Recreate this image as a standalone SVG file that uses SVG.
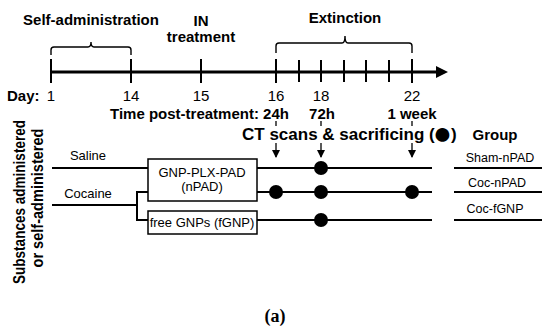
<svg xmlns="http://www.w3.org/2000/svg" width="550" height="334" viewBox="0 0 550 334">
<style>
text{font-family:"Liberation Sans",Arial,sans-serif;fill:#000}
.b{font-weight:bold;font-size:15px}
.r{font-size:15px}
.s{font-size:13px}
.g{font-size:12.5px}
.m{text-anchor:middle}
.ln{stroke:#000;stroke-width:2;fill:none}
.tk{stroke:#000;stroke-width:2}
.br{stroke:#000;stroke-width:1.4;fill:none}
.box{fill:#fff;stroke:#000;stroke-width:1.5}
.dot{fill:#000}
.th{stroke:#000;stroke-width:1.3}
</style>
<defs>
<marker id="ah" viewBox="0 0 8 8" refX="7" refY="4" markerWidth="8" markerHeight="8" markerUnits="userSpaceOnUse" orient="auto">
<path d="M0,0 L8,4 L0,8 z" fill="#000"/>
</marker>
</defs>

<g id="timeline">
<line x1="51" y1="72" x2="438" y2="72" stroke="#000" stroke-width="3"/>
<path d="M436,66 L448,72 L436,78 z" fill="#000"/>
<g class="tk">
<line x1="51" y1="59" x2="51" y2="83"/>
<line x1="131" y1="59" x2="131" y2="83"/>
<line x1="201" y1="59" x2="201" y2="83"/>
<line x1="276" y1="59" x2="276" y2="83"/>
<line x1="299" y1="60" x2="299" y2="82"/>
<line x1="321" y1="60" x2="321" y2="82"/>
<line x1="344" y1="60" x2="344" y2="82"/>
<line x1="366" y1="60" x2="366" y2="82"/>
<line x1="389" y1="60" x2="389" y2="82"/>
<line x1="412" y1="59" x2="412" y2="83"/>
</g>
<path class="br" d="M51,55 V50 Q51,47 54,47 H88 Q91,47 91,42 Q91,47 94,47 H128 Q131,47 131,50 V55"/>
<path class="br" d="M276,53 V46 Q276,43 279,43 H342 Q345,43 345,36 Q345,43 348,43 H409 Q412,43 412,46 V53"/>
<text class="b m" x="91" y="25">Self-administration</text>
<text class="b m" x="201" y="26">IN</text>
<text class="b m" x="201" y="42">treatment</text>
<text class="b m" x="345" y="23">Extinction</text>
<text class="b" x="7" y="101">Day:</text>
<text class="r m" x="51" y="101">1</text>
<text class="r m" x="131" y="101">14</text>
<text class="r m" x="201" y="101">15</text>
<text class="r m" x="276" y="101">16</text>
<text class="r m" x="321" y="101">18</text>
<text class="r m" x="412" y="101">22</text>
<text class="b" x="110" y="119">Time post-treatment: 24h</text>
<text class="b m" x="322" y="119">72h</text>
<text class="b m" x="412" y="119">1 week</text>
<g class="th">
<line x1="276" y1="121" x2="276" y2="126"/>
<line x1="321" y1="121" x2="321" y2="126"/>
<line x1="412" y1="121" x2="412" y2="126"/>
</g>
<text class="b" x="242" y="140" style="font-size:17px">CT scans &amp; sacrificing (<tspan dx="-2" dy="4" style="font-size:32px">●</tspan><tspan dx="-1" dy="-4">)</tspan></text>
</g>

<g id="connectors">
<line class="th" x1="276" y1="143" x2="276" y2="157" marker-end="url(#ah)"/>
<line class="th" x1="321" y1="143" x2="321" y2="157" marker-end="url(#ah)"/>
<line class="th" x1="412" y1="143" x2="412" y2="157" marker-end="url(#ah)"/>
<line class="ln" x1="52" y1="168" x2="148" y2="168"/>
<line class="ln" x1="257" y1="168" x2="432" y2="168"/>
<path class="ln" d="M52,205 H137 M148,192 H137 V220 H148"/>
<line class="ln" x1="257" y1="192" x2="432" y2="192"/>
<line class="ln" x1="257" y1="220" x2="432" y2="220"/>
<line class="ln" x1="454" y1="168" x2="542" y2="168"/>
<line class="ln" x1="454" y1="192" x2="542" y2="192"/>
<line class="ln" x1="454" y1="220" x2="542" y2="220"/>
</g>

<g id="dots">
<circle class="dot" cx="321" cy="168" r="7"/>
<circle class="dot" cx="276" cy="192" r="7"/>
<circle class="dot" cx="321" cy="192" r="7"/>
<circle class="dot" cx="412" cy="192" r="7"/>
<circle class="dot" cx="321" cy="220" r="7"/>
</g>

<g id="saline"><text class="s m" x="88" y="160">Saline</text></g>
<g id="cocaine"><text class="s m" x="88" y="198">Cocaine</text></g>
<g id="npad">
<rect class="box" x="148" y="159" width="109" height="42"/>
<text class="s m" x="202" y="177">GNP-PLX-PAD</text>
<text class="s m" x="202" y="191">(nPAD)</text>
</g>
<g id="fgnp">
<rect class="box" x="148" y="211" width="109" height="23"/>
<text class="s m" x="202" y="227">free GNPs (fGNP)</text>
</g>
<g id="groups">
<text class="b m" x="495" y="140">Group</text>
<text class="g m" x="500" y="162">Sham-nPAD</text>
<text class="g m" x="497" y="187">Coc-nPAD</text>
<text class="g m" x="495" y="213">Coc-fGNP</text>
</g>
<g id="ylabel">
<text class="b m" transform="translate(25,202) rotate(-90)" style="font-size:16px" textLength="164" lengthAdjust="spacingAndGlyphs">Substances administered</text>
<text class="b m" transform="translate(43,198) rotate(-90)" style="font-size:16px" textLength="139" lengthAdjust="spacingAndGlyphs">or self-administered</text>
</g>
<text x="275" y="322" text-anchor="middle" style="font-family:'Liberation Serif',serif;font-weight:bold;font-size:18px">(a)</text>
</svg>
